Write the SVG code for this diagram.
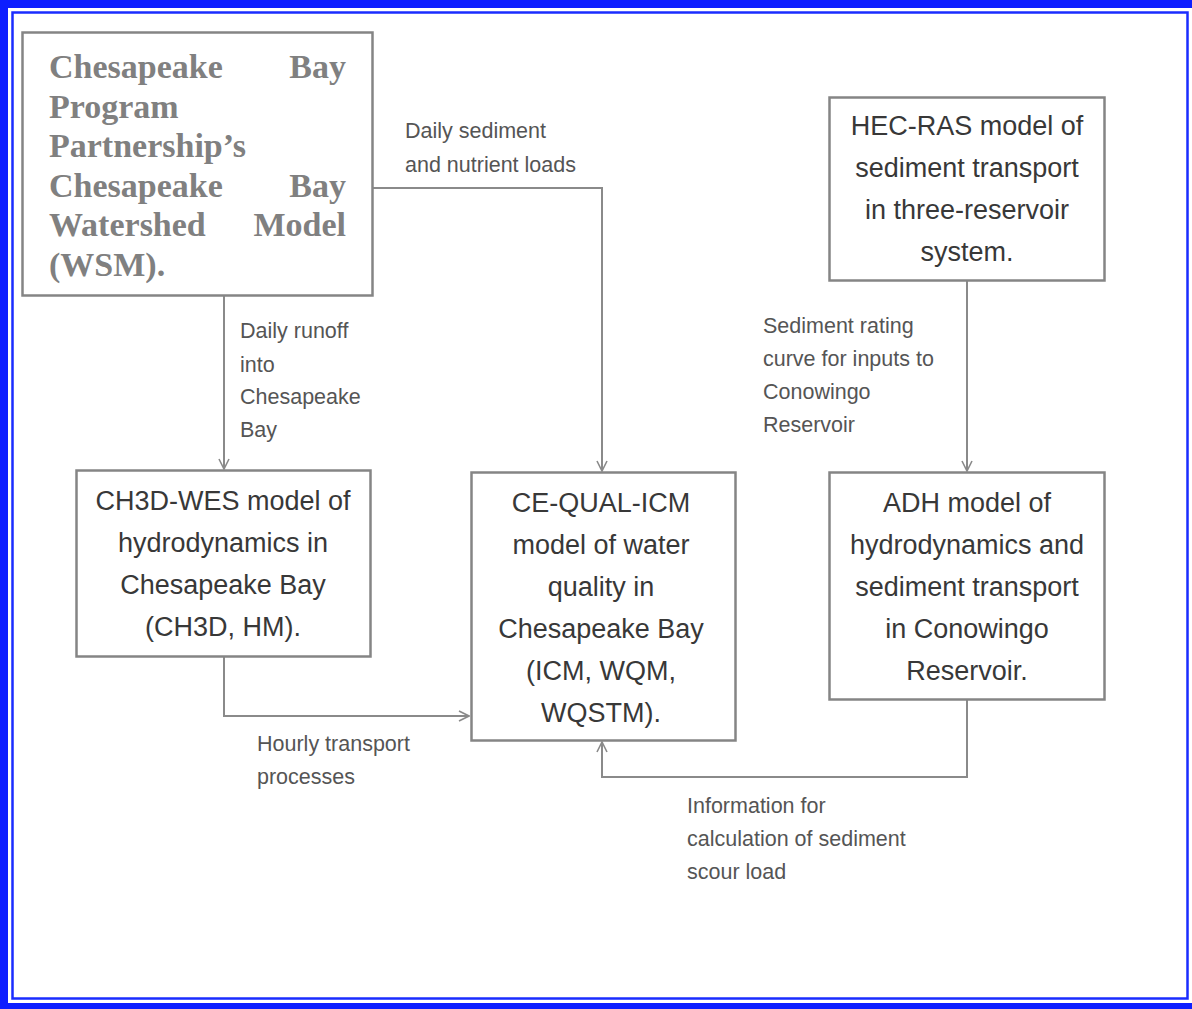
<svg xmlns="http://www.w3.org/2000/svg" width="1192" height="1009" viewBox="0 0 1192 1009">
<style>
.box{fill:#fff;stroke:#858585;stroke-width:2.5}
.bt{font-family:"Liberation Sans",Arial,sans-serif;font-size:27px;fill:#383838;text-anchor:middle}
.wsm{font-family:"Liberation Serif","Times New Roman",serif;font-size:34px;font-weight:bold;fill:#808080}
.lbl{font-family:"Liberation Sans",Arial,sans-serif;font-size:21.5px;fill:#555}
.con{fill:none;stroke:#8a8a8a;stroke-width:2}
</style>
<defs>
<marker id="ah" viewBox="0 0 12 12" refX="11" refY="6" markerWidth="12" markerHeight="12" markerUnits="userSpaceOnUse" orient="auto">
<path d="M1,1 L11,6 L1,11" fill="none" stroke="#8a8a8a" stroke-width="1.6"/>
</marker>
</defs>
<rect x="0" y="0" width="1192" height="1009" fill="#fff"/>
<g id="frame">
<rect x="0" y="0" width="1192" height="8" fill="#0d1eff"/>
<rect x="0" y="0" width="8" height="1009" fill="#0d1eff"/>
<rect x="0" y="1003" width="1192" height="6" fill="#0d1eff"/>
<rect x="12.5" y="12.5" width="1175" height="986" fill="none" stroke="#1a2cff" stroke-width="2.5"/>
</g>
<g id="connectors">
<path class="con" d="M224,296 V469" marker-end="url(#ah)"/>
<path class="con" d="M373,188 H602 V471" marker-end="url(#ah)"/>
<path class="con" d="M967,281 V471" marker-end="url(#ah)"/>
<path class="con" d="M224,657 V716 H469" marker-end="url(#ah)"/>
<path class="con" d="M967,700 V777 H602 V742" marker-end="url(#ah)"/>
</g>
<g id="labels">
<text class="lbl" x="405" y="138">Daily sediment</text>
<text class="lbl" x="405" y="172">and nutrient loads</text>
<text class="lbl" x="240" y="338">Daily runoff</text>
<text class="lbl" x="240" y="372">into</text>
<text class="lbl" x="240" y="404">Chesapeake</text>
<text class="lbl" x="240" y="437">Bay</text>
<text class="lbl" x="763" y="333">Sediment rating</text>
<text class="lbl" x="763" y="366">curve for inputs to</text>
<text class="lbl" x="763" y="399">Conowingo</text>
<text class="lbl" x="763" y="432">Reservoir</text>
<text class="lbl" x="257" y="751">Hourly transport</text>
<text class="lbl" x="257" y="784">processes</text>
<text class="lbl" x="687" y="813">Information for</text>
<text class="lbl" x="687" y="846">calculation of sediment</text>
<text class="lbl" x="687" y="879">scour load</text>
</g>
<g id="wsm">
<rect class="box" x="22.5" y="32.5" width="350" height="263"/>
<text class="wsm" x="49" y="78">Chesapeake</text>
<text class="wsm" x="346" y="78" text-anchor="end">Bay</text>
<text class="wsm" x="49" y="118">Program</text>
<text class="wsm" x="49" y="157">Partnership’s</text>
<text class="wsm" x="49" y="197">Chesapeake</text>
<text class="wsm" x="346" y="197" text-anchor="end">Bay</text>
<text class="wsm" x="49" y="236">Watershed</text>
<text class="wsm" x="346" y="236" text-anchor="end">Model</text>
<text class="wsm" x="49" y="276">(WSM).</text>
</g>
<g id="hecras">
<rect class="box" x="829.5" y="97.5" width="275" height="183"/>
<text class="bt" x="967" y="135">HEC-RAS model of</text>
<text class="bt" x="967" y="177">sediment transport</text>
<text class="bt" x="967" y="219">in three-reservoir</text>
<text class="bt" x="967" y="261">system.</text>
</g>
<g id="ch3d">
<rect class="box" x="76.5" y="470.5" width="294" height="186"/>
<text class="bt" x="223" y="510">CH3D-WES model of</text>
<text class="bt" x="223" y="552">hydrodynamics in</text>
<text class="bt" x="223" y="594">Chesapeake Bay</text>
<text class="bt" x="223" y="636">(CH3D, HM).</text>
</g>
<g id="cequal">
<rect class="box" x="471.5" y="472.5" width="264" height="268"/>
<text class="bt" x="601" y="512">CE-QUAL-ICM</text>
<text class="bt" x="601" y="554">model of water</text>
<text class="bt" x="601" y="596">quality in</text>
<text class="bt" x="601" y="638">Chesapeake Bay</text>
<text class="bt" x="601" y="680">(ICM, WQM,</text>
<text class="bt" x="601" y="722">WQSTM).</text>
</g>
<g id="adh">
<rect class="box" x="829.5" y="472.5" width="275" height="227"/>
<text class="bt" x="967" y="512">ADH model of</text>
<text class="bt" x="967" y="554">hydrodynamics and</text>
<text class="bt" x="967" y="596">sediment transport</text>
<text class="bt" x="967" y="638">in Conowingo</text>
<text class="bt" x="967" y="680">Reservoir.</text>
</g>
</svg>
